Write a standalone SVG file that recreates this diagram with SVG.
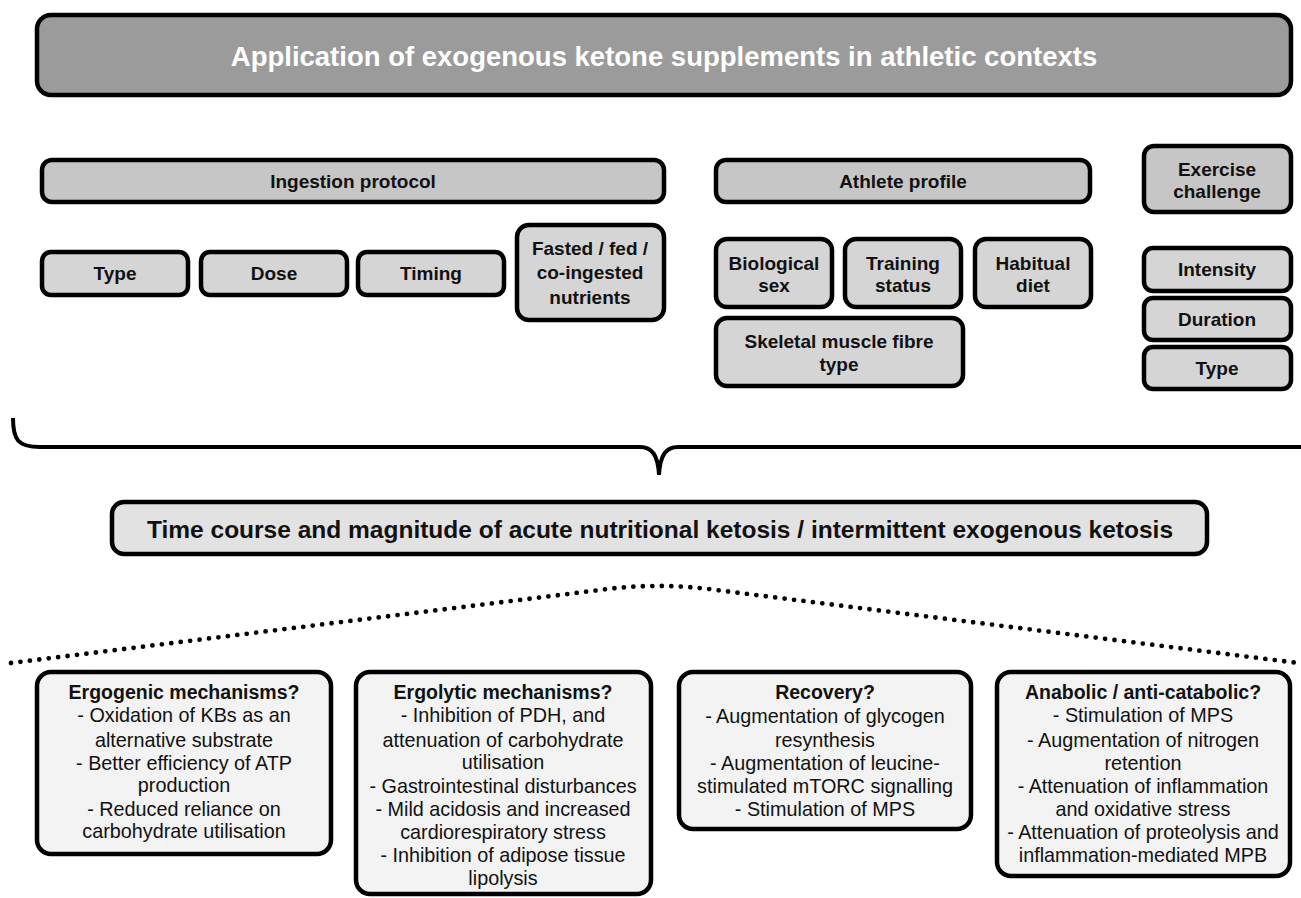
<svg xmlns="http://www.w3.org/2000/svg" width="1301" height="898" viewBox="0 0 1301 898">
<style>
.b{stroke:#000;stroke-width:4.5}
.t0{fill:#9b9b9b}
.h{fill:#c6c6c6}
.s{fill:#d5d5d5}
.m{fill:#e2e2e2}
.l{fill:#f2f3f2}
text{font-family:"Liberation Sans",Arial,sans-serif;text-anchor:middle;fill:#111}
.bt{font-weight:bold;font-size:19px}
.bb{font-weight:bold;font-size:19.5px}
.r{font-size:19.8px}
</style>
<rect width="1301" height="898" fill="#fff"/>
<g id="title">
<rect class="b t0" x="37" y="15" width="1254" height="80" rx="14"/>
<text x="664" y="66" style="font-weight:bold;font-size:27.5px;fill:#fff">Application of exogenous ketone supplements in athletic contexts</text>
</g>
<g id="ingestion">
<rect class="b h" x="42" y="160" width="622" height="42" rx="10"/>
<text class="bt" x="353" y="188">Ingestion protocol</text>
</g>
<g id="athlete">
<rect class="b h" x="716" y="160" width="374" height="42" rx="10"/>
<text class="bt" x="903" y="188">Athlete profile</text>
</g>
<g id="exercise">
<rect class="b h" x="1144" y="146" width="147" height="66" rx="10"/>
<text class="bt" x="1217" y="176">Exercise</text>
<text class="bt" x="1217" y="198">challenge</text>
</g>
<g id="type1">
<rect class="b s" x="42" y="252" width="146" height="43" rx="9"/>
<text class="bt" x="115" y="280">Type</text>
</g>
<g id="dose">
<rect class="b s" x="201" y="252" width="146" height="43" rx="9"/>
<text class="bt" x="274" y="280">Dose</text>
</g>
<g id="timing">
<rect class="b s" x="358" y="252" width="146" height="43" rx="9"/>
<text class="bt" x="431" y="280">Timing</text>
</g>
<g id="fasted">
<rect class="b s" x="517" y="225" width="147" height="95" rx="12"/>
<text class="bt" x="590" y="255">Fasted / fed /</text>
<text class="bt" x="590" y="279">co-ingested</text>
<text class="bt" x="590" y="304">nutrients</text>
</g>
<g id="sex">
<rect class="b s" x="716" y="239" width="116" height="68" rx="11"/>
<text class="bt" x="774" y="270">Biological</text>
<text class="bt" x="774" y="292">sex</text>
</g>
<g id="training">
<rect class="b s" x="845" y="239" width="116" height="68" rx="11"/>
<text class="bt" x="903" y="270">Training</text>
<text class="bt" x="903" y="292">status</text>
</g>
<g id="diet">
<rect class="b s" x="975" y="239" width="116" height="68" rx="11"/>
<text class="bt" x="1033" y="270">Habitual</text>
<text class="bt" x="1033" y="292">diet</text>
</g>
<g id="fibre">
<rect class="b s" x="716" y="318" width="247" height="68" rx="11"/>
<text class="bt" x="839" y="348">Skeletal muscle fibre</text>
<text class="bt" x="839" y="371">type</text>
</g>
<g id="intensity">
<rect class="b s" x="1144" y="248" width="147" height="43" rx="9"/>
<text class="bt" x="1217" y="276">Intensity</text>
</g>
<g id="duration">
<rect class="b s" x="1144" y="298" width="147" height="42" rx="9"/>
<text class="bt" x="1217" y="326">Duration</text>
</g>
<g id="type2">
<rect class="b s" x="1144" y="347" width="147" height="42" rx="9"/>
<text class="bt" x="1217" y="375">Type</text>
</g>
<g id="connectors" fill="none" stroke="#000">
<path d="M13,418 C13,440 18,447 40,447 L640,447 C652,447 658,455 659,475 C660,455 666,447 678,447 L1301,447" stroke-width="4"/>
<path d="M11,663 L600,590 Q658,582 716,590 L1298,663" stroke-width="4.8" stroke-dasharray="0 9.5" stroke-linecap="round"/>
</g>
<g id="timecourse">
<rect class="b m" x="112" y="502" width="1095" height="52" rx="12"/>
<text x="660" y="538" style="font-weight:bold;font-size:24.5px">Time course and magnitude of acute nutritional ketosis / intermittent exogenous ketosis</text>
</g>
<g id="ergogenic">
<rect class="b l" x="37" y="672" width="294" height="182" rx="14"/>
<text class="bb" x="184" y="699">Ergogenic mechanisms?</text>
<text class="r" x="184" y="722">- Oxidation of KBs as an</text>
<text class="r" x="184" y="747">alternative substrate</text>
<text class="r" x="184" y="770">- Better efficiency of ATP</text>
<text class="r" x="184" y="792">production</text>
<text class="r" x="184" y="816">- Reduced reliance on</text>
<text class="r" x="184" y="838">carbohydrate utilisation</text>
</g>
<g id="ergolytic">
<rect class="b l" x="356" y="672" width="295" height="222" rx="14"/>
<text class="bb" x="503" y="699">Ergolytic mechanisms?</text>
<text class="r" x="503" y="722">- Inhibition of PDH, and</text>
<text class="r" x="503" y="747">attenuation of carbohydrate</text>
<text class="r" x="503" y="769">utilisation</text>
<text class="r" x="503" y="793">- Gastrointestinal disturbances</text>
<text class="r" x="503" y="816">- Mild acidosis and increased</text>
<text class="r" x="503" y="839">cardiorespiratory stress</text>
<text class="r" x="503" y="862">- Inhibition of adipose tissue</text>
<text class="r" x="503" y="885">lipolysis</text>
</g>
<g id="recovery">
<rect class="b l" x="679" y="672" width="292" height="157" rx="14"/>
<text class="bb" x="825" y="699">Recovery?</text>
<text class="r" x="825" y="723">- Augmentation of glycogen</text>
<text class="r" x="825" y="747">resynthesis</text>
<text class="r" x="825" y="770">- Augmentation of leucine-</text>
<text class="r" x="825" y="793">stimulated mTORC signalling</text>
<text class="r" x="825" y="816">- Stimulation of MPS</text>
</g>
<g id="anabolic">
<rect class="b l" x="997" y="672" width="293" height="204" rx="14"/>
<text class="bb" x="1143" y="699">Anabolic / anti-catabolic?</text>
<text class="r" x="1143" y="722">- Stimulation of MPS</text>
<text class="r" x="1143" y="747">- Augmentation of nitrogen</text>
<text class="r" x="1143" y="770">retention</text>
<text class="r" x="1143" y="793">- Attenuation of inflammation</text>
<text class="r" x="1143" y="816">and oxidative stress</text>
<text class="r" x="1143" y="839">- Attenuation of proteolysis and</text>
<text class="r" x="1143" y="862">inflammation-mediated MPB</text>
</g>
</svg>
